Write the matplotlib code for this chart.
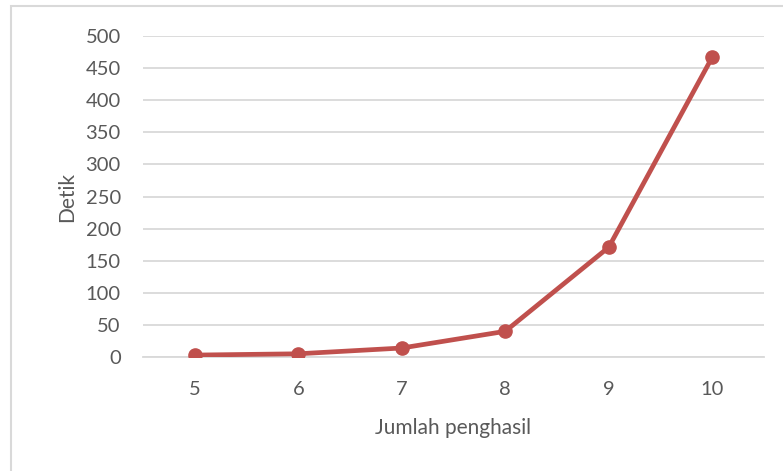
import matplotlib.pyplot as plt
from matplotlib.patches import Rectangle

# data
producers = ['5', '6', '7', '8', '9', '10']
seconds = [3, 5, 14, 40, 171, 467]
y_ticks = [0, 50, 100, 150, 200, 250, 300, 350, 400, 450, 500]

text_color = '#595959'
line_color = '#C0504D'
grid_color = '#D9D9D9'

plt.rcParams['font.family'] = ['Lato', 'DejaVu Sans']

fig = plt.figure(figsize=(7.83, 4.71), dpi=100)
ax = fig.add_axes([143 / 783, 1 - 357 / 471, (764 - 143) / 783, (357 - 36) / 471])

# outer chart border (cut off at right and bottom like the source)
border = Rectangle((11 / 783, -0.05), 1.1, 1 - 6 / 471 + 0.05, transform=fig.transFigure,
                   fill=False, edgecolor=grid_color, linewidth=1.5, clip_on=False)
fig.patches.append(border)

x = range(len(producers))
ax.plot(x, seconds, color=line_color, linewidth=3.4, marker='o', markersize=9.5,
        solid_capstyle='round', zorder=3)

ax.set_xlim(-0.5, len(producers) - 0.5)
ax.set_ylim(0, 500)
ax.set_xticks(list(x))
ax.set_xticklabels(producers)
ax.set_yticks(y_ticks)

ax.grid(axis='y', color=grid_color, linewidth=1.3)
ax.set_axisbelow(True)
for side in ['top', 'right', 'left']:
    ax.spines[side].set_visible(False)
ax.spines['bottom'].set_color(grid_color)
ax.spines['bottom'].set_linewidth(1.3)

ax.tick_params(axis='both', length=0, labelsize=14.5, labelcolor=text_color)
ax.tick_params(axis='y', pad=16)
ax.tick_params(axis='x', pad=17)

ax.set_xlabel('Jumlah penghasil', fontsize=15, color=text_color, labelpad=15)
ax.set_ylabel('Detik', fontsize=15, color=text_color, labelpad=6)

fig.savefig('out.png', dpi=100)
